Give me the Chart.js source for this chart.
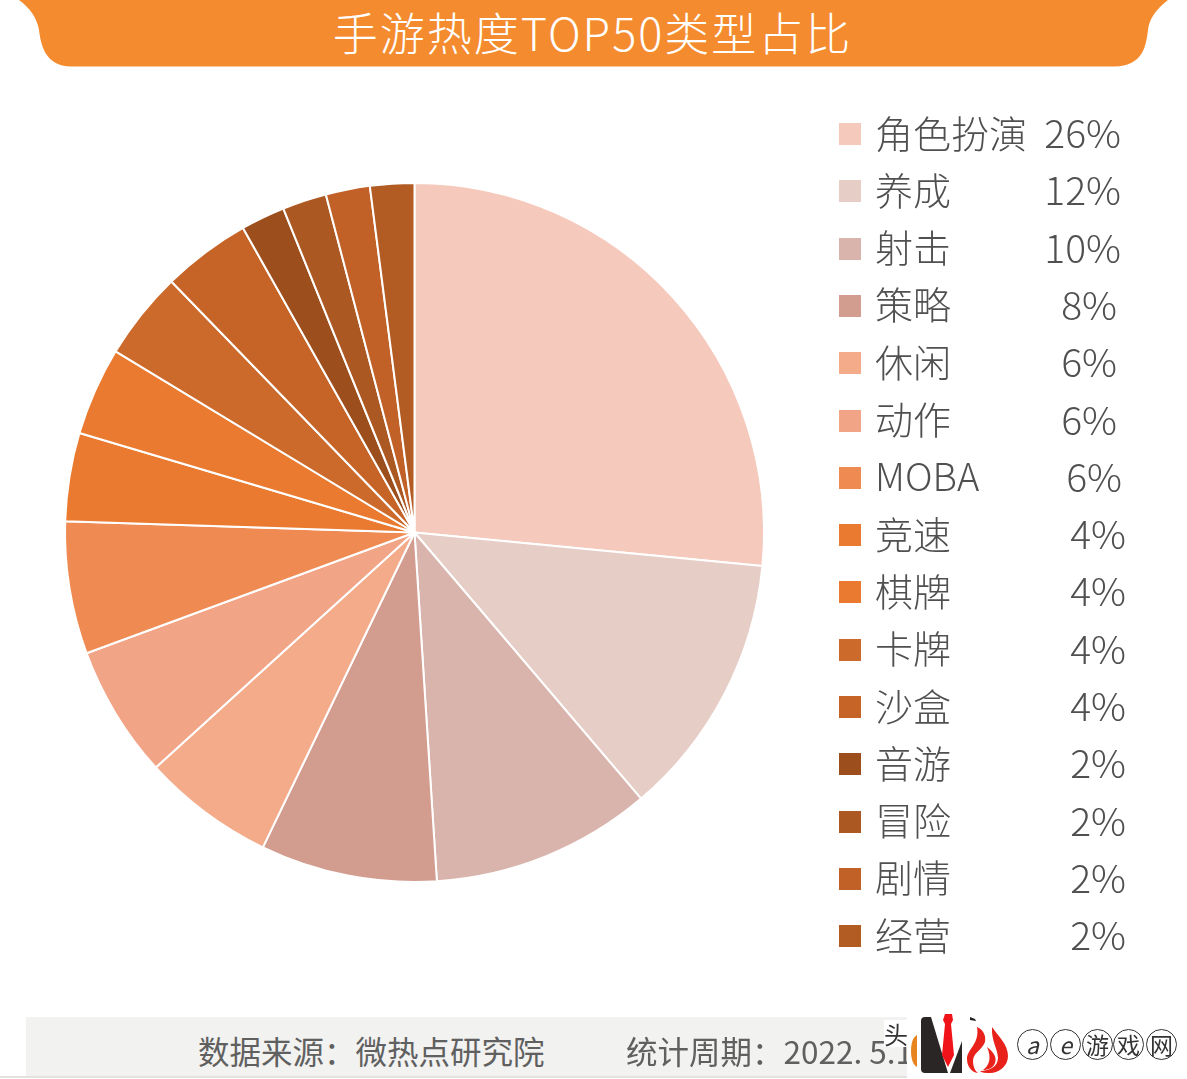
<!DOCTYPE html>
<html lang="zh">
<head>
<meta charset="utf-8">
<title>手游热度TOP50类型占比</title>
<script src="https://cdn.jsdelivr.net/npm/chart.js@4"></script>
<style>
html, body { margin: 0; padding: 0; background: #fff; }
body { position: relative; width: 1187px; height: 1079px; overflow: hidden;
       font-family: "Noto Sans CJK SC", "Noto Sans", sans-serif; font-weight: 300; color: #505050; }
#pie { position: absolute; left: 0; top: 0; }
#banner, #logo { position: absolute; left: 0; top: 0; }
#title { position: absolute; left: -1px; width: 1187px; top: -1px; height: 66px; line-height: 66px; text-align: center;
         color: #fff; font-size: 45px; letter-spacing: 2px; }
.swatch { position: absolute; left: 839px; width: 22px; height: 22px; }
.name, .pct { position: absolute; line-height: 44px; white-space: nowrap; }
.name { left: 875px; font-size: 38px; }
.pct { font-size: 39px; }
#foot { position: absolute; left: 26px; top: 1017px; width: 881px; height: 59px; background: #f2f2f1; }
#footline { position: absolute; left: 0; top: 1076px; width: 907px; height: 2px; background: #e4e2e1; }
.foot { position: absolute; top: 1028px; font-size: 31.5px; line-height: 44px; white-space: nowrap; color: #606060; font-weight: 400; }
.foot span { font-family: "Noto Sans CJK TC", sans-serif; }
#toutiao { position: absolute; left: 884px; top: 1020px; width: 24px; height: 27px; line-height: 27px; font-size: 24px;
           background: #fff; color: #333; font-weight: 400; }
#mark { position: absolute; left: 907px; top: 1012px; width: 280px; height: 67px; background: #fff; }
.ring { position: absolute; top: 1029px; width: 31px; height: 31px; line-height: 28px; border: 1.5px solid #333; border-radius: 50%;
        box-sizing: border-box; text-align: center; font-size: 23px; color: #333; font-weight: 400; }
</style>
</head>
<body>
<svg id="banner" width="1187" height="70">
  <path d="M19 0 H1168 C1155 10 1149 20 1148 30 C1146 45 1144 66 1114 66.5 H71 C45 66 41 45 39 30 C37 18 30 8 19 0 Z" fill="#f48c2f"/>
</svg>
<div id="title">手游热度TOP50类型占比</div>
<canvas id="pie" width="1187" height="1079"></canvas>
<div id="legend"></div>
<div id="foot"></div>
<div id="footline"></div>
<div class="foot" style="left:198px">数据来源<span>：</span>微热点研究院</div>
<div class="foot" style="left:626px">统计周期<span>：</span>2022. 5.1</div>
<div id="toutiao">头</div>
<div id="mark"></div>
<svg id="logo" width="1187" height="1079">
  <path d="M911 1051 C911 1043 913 1037 917 1035 V1067 C913 1065 911 1059 911 1051 Z" fill="#e8841f"/>
  <path d="M925 1017 H931 L948 1073 H925 Q921 1073 921 1069 V1021 Q921 1017 925 1017 Z" fill="#2b2626"/>
  <path d="M962 1041 V1073 H950 Z" fill="#2b2626"/>
  <path d="M945 1014 H952 L953 1020 L951 1024 L954 1055 L948 1067 L942 1055 L945 1024 L943 1020 Z" fill="#f0141a"/>
  <path d="M970 1017 L975 1019 L976 1021 L970 1020 Z" fill="#222"/>
  <path d="M977 1027 C984 1030 986 1036 985 1042 C982 1050 973 1053 973 1061 C973 1066 975 1071 978 1073 C971 1072 967 1066 967 1059 C967 1049 980 1044 977 1027 Z" fill="#e8221b"/>
  <path d="M992 1027 C998 1036 1008 1044 1008 1056 C1008 1066 999 1073 990 1073 C986 1073 982 1073 980 1071 C990 1071 998 1066 998 1058 C998 1050 991 1040 992 1027 Z" fill="#e8221b"/>
  <path d="M987 1047 C994 1052 997 1058 995 1063 C993 1068 988 1070 983 1070 C989 1066 992 1058 987 1047 Z" fill="#e8221b"/>
</svg>
<div class="ring" style="left:1017px;font-style:italic">a</div>
<div class="ring" style="left:1050px;font-style:italic">e</div>
<div class="ring" style="left:1082px">游</div>
<div class="ring" style="left:1113px">戏</div>
<div class="ring" style="left:1146px">网</div>
<script>
// chart data
const categories = ['角色扮演', '养成', '射击', '策略', '休闲', '动作', 'MOBA', '竞速', '棋牌', '卡牌', '沙盒', '音游', '冒险', '剧情', '经营'];
const shares = [26, 12, 10, 8, 6, 6, 6, 4, 4, 4, 4, 2, 2, 2, 2];
const sliceColors = ['#f5c9bb', '#e6cdc6', '#d9b4ac', '#d29c8f', '#f3ab8a', '#f2a486', '#ef8b52', '#ea7a2f', '#ea7a2f',
                     '#cc6a2b', '#c56426', '#9c4f1c', '#ac5822', '#c16127', '#b25c24'];
// right edge of each percent label, they do not line up in the original
const pctRight = [1121, 1121, 1121, 1117, 1117, 1117, 1122, 1126, 1126, 1126, 1126, 1126, 1126, 1126, 1126];

new Chart(document.getElementById('pie').getContext('2d'), {
    type: 'pie',
    data: {
        labels: categories,
        datasets: [{
            data: shares,
            backgroundColor: sliceColors,
            borderColor: '#fff',
            borderWidth: 2
        }]
    },
    options: {
        responsive: false,
        animation: false,
        layout: { padding: { left: 64, right: 422, top: 182, bottom: 196 } },
        plugins: { legend: { display: false }, tooltip: { enabled: false } }
    }
});

// legend rows next to the pie
const legend = document.getElementById('legend');
categories.forEach(function(name, i) {
    let y = 134 + i * 57.3;
    legend.insertAdjacentHTML('beforeend',
        '<div class="swatch" style="top:' + (y - 11) + 'px;background:' + sliceColors[i] + '"></div>' +
        '<div class="name" style="top:' + (y - 24.5) + 'px">' + name + '</div>' +
        '<div class="pct" style="top:' + (y - 25) + 'px;right:' + (1187 - pctRight[i]) + 'px">' + shares[i] + '%</div>');
});
</script>
</body>
</html>
